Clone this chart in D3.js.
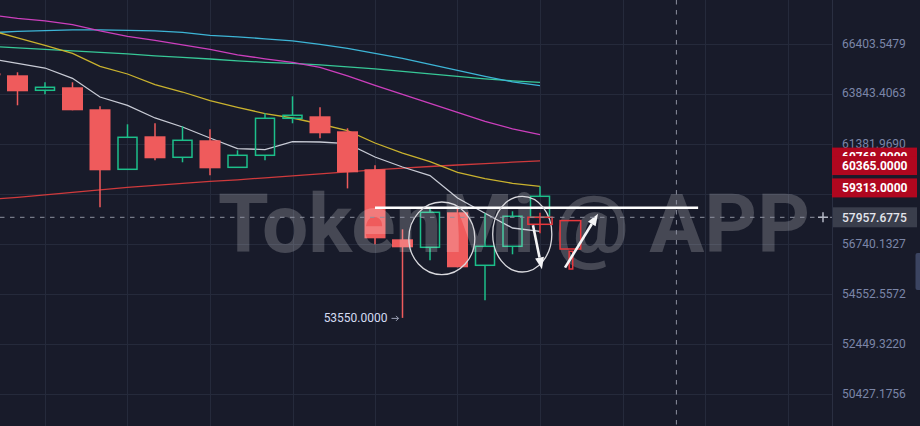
<!DOCTYPE html>
<html><head><meta charset="utf-8">
<script src="https://cdn.jsdelivr.net/npm/d3@7/dist/d3.min.js"></script>
<style>html,body{margin:0;padding:0;background:#181b2a;overflow:hidden}</style>
</head><body><svg id="c" width="920" height="426"></svg>
<script>
// ---- data ----
const openP  = [64907,64805,64045,64197,63096,60187,61770,60758,61576,60281,60854,62650,62749,62013,60187,56964,56606,58186,55811,56651,57958];
const highP  = [64990,64958,64449,64449,63245,62355,62404,62258,62111,61093,62897,63743,63195,62159,60376,57413,58369,58369,58141,58232,59389];
const lowP   = [64700,63294,63844,63046,58416,60187,60615,60520,59904,60281,60615,62404,61672,59290,56740,53550,56031,55724,54296,56296,57958];
const closeP = [64805,63995,64197,63046,60140,61721,60711,61576,60234,60854,62650,62798,61916,60046,57008,56606,58186,55724,56651,58004,58923];

const maWhite   = [65651,65418,65177,64652,63708,63294,62665,62223,61687,61175,61127,61513,61494,61417,60772,60296,59890,58844,58141,57472,57323];
const maYellow  = [67138,66744,66351,65935,65264,64871,64332,63959,63528,63194,62882,62665,62370,62047,61445,60963,60553,60046,59749,59528,59389];
const maRed     = [58775,58876,58992,59109,59225,59341,59435,59528,59622,59692,59786,59880,59974,60069,60164,60244,60320,60391,60457,60524,60590];
const maMagenta = [67962,67775,67642,67440,67112,66823,66613,66377,66143,65857,65651,65470,65213,64779,64297,63844,63393,62946,62502,62135,61852];
const maCyan    = [67007,67086,67123,67165,67165,67138,67112,67033,66876,66797,66692,66587,66403,66195,65935,65677,65367,65060,64753,64474,64282];
const maGreen   = [66299,66221,66143,66065,65987,65910,65806,65728,65641,65548,65470,65418,65341,65239,65136,65008,64881,64753,64626,64525,64449];

const priceTicks = [66403.5479,63843.4063,61381.9690,59015.4310,56740.1327,54552.5572,52449.3220,50427.1756];
const timeGrid = [2,5,8,11,14,17,20,23,26,29];
const priceTags = [60768.0000, 60365.0000, 59313.0000];
const crossIdx = 24.96, crossPrice = 57957.6775;
const lowMark = {i:15, p:53550.0000};

// annotations in data space (index, price)
const hLevel = {from:14, to:25.75, p:58392};
const ellipses = [{i0:15.23,i1:17.63,p0:55404,p1:58659},{i0:18.28,i1:20.43,p0:55518,p1:58923}];
const arrows = [{i0:19.745,p0:57594,i1:20.07,p1:55636},{i0:20.91,p0:55708,i1:22.11,p1:58118}];
const redBoxes = [{i0:19.56,i1:20.44,p0:57639,p1:57958},{i0:20.73,i1:21.48,p0:56531,p1:57808},{i0:21.06,i1:21.19,p0:55649,p1:56429}];
const redStick = {i:20, p0:57233, p1:58164};

// ---- scales ----
const W = 920, H = 426, plotR = 833;
const x = d3.scaleLinear().domain([1,20]).range([17.5,540]);
const y = d3.scaleLog().domain([50427.1756,66403.5479]).range([394.3,44.3]);

const svg = d3.select('#c');
svg.append('rect').attr('width',W).attr('height',H).attr('fill','#181b2a');
svg.append('defs').append('clipPath').attr('id','pc').append('rect').attr('x',0).attr('y',0).attr('width',plotR).attr('height',H);
const g = svg.append('g').attr('clip-path','url(#pc)');

// grid
g.selectAll('.hg').data(priceTicks).join('line')
  .attr('x1',0).attr('x2',plotR).attr('y1',d=>Math.round(y(d))+0.5).attr('y2',d=>Math.round(y(d))+0.5)
  .attr('stroke','#252a3b').attr('stroke-width',1);
g.selectAll('.vg').data(timeGrid).join('line')
  .attr('y1',0).attr('y2',H).attr('x1',d=>Math.round(x(d))+0.5).attr('x2',d=>Math.round(x(d))+0.5)
  .attr('stroke','#252a3b').attr('stroke-width',1);

// moving averages
const line = d3.line().x((d,i)=>x(i)).y(d=>y(d));
[[maRed,'#cf3a3c'],[maGreen,'#37c897'],[maCyan,'#3db5d6'],[maMagenta,'#cc3fbd'],[maYellow,'#c9b22e'],[maWhite,'#c8cbd5']]
 .forEach(([arr,col])=>{
  g.append('path').datum(arr).attr('d',line).attr('fill','none').attr('stroke',col).attr('stroke-width',1.3);
 });

// candles
const RED='#ef5b5c', GRN='#1cbf8a';
const cand = d3.range(openP.length).map(i=>({i,o:openP[i],h:highP[i],l:lowP[i],c:closeP[i]}));
cand.forEach(d=>{
  const cx = x(d.i);
  const up = d.c >= d.o;
  const top = y(Math.max(d.o,d.c)), bot = y(Math.min(d.o,d.c));
  if(up){
    g.append('line').attr('x1',cx).attr('x2',cx).attr('y1',y(d.h)).attr('y2',top).attr('stroke',GRN).attr('stroke-width',1.5);
    g.append('line').attr('x1',cx).attr('x2',cx).attr('y1',bot).attr('y2',y(d.l)).attr('stroke',GRN).attr('stroke-width',1.5);
    g.append('rect').attr('x',cx-9.5).attr('y',top).attr('width',19).attr('height',Math.max(1,bot-top))
      .attr('fill','none').attr('stroke',GRN).attr('stroke-width',1.5);
  } else {
    g.append('line').attr('x1',cx).attr('x2',cx).attr('y1',y(d.h)).attr('y2',y(d.l)).attr('stroke',RED).attr('stroke-width',1.5);
    g.append('rect').attr('x',cx-10.5).attr('y',top).attr('width',21).attr('height',Math.max(1,bot-top)).attr('fill',RED);
  }
});

// watermark
const wm = g.append('text').attr('x',218).attr('y',252).text('TokenMi @ APP')
  .attr('font-family','Roboto, "Open Sans", sans-serif').attr('font-weight',700).attr('font-size',81)
  .attr('fill','#ffffff').attr('fill-opacity',0.2);
const wl = wm.node().getComputedTextLength();
wm.attr('font-size', 81*592/wl);

// annotations
g.append('line').attr('x1',x(hLevel.from)).attr('x2',x(hLevel.to)).attr('y1',y(hLevel.p)).attr('y2',y(hLevel.p))
  .attr('stroke','#ffffff').attr('stroke-width',2.5);
ellipses.forEach(e=>{
  const x0=x(e.i0),x1=x(e.i1),y0=y(e.p1),y1=y(e.p0);
  g.append('ellipse').attr('cx',(x0+x1)/2).attr('cy',(y0+y1)/2).attr('rx',(x1-x0)/2).attr('ry',(y1-y0)/2)
    .attr('fill','none').attr('stroke','#d9d9de').attr('stroke-width',1.3);
});
redBoxes.forEach(b=>{
  g.append('rect').attr('x',x(b.i0)).attr('y',y(b.p1)).attr('width',x(b.i1)-x(b.i0)).attr('height',y(b.p0)-y(b.p1))
    .attr('fill','none').attr('stroke','#e8383d').attr('stroke-width',1.5);
});
g.append('line').attr('x1',x(redStick.i)).attr('x2',x(redStick.i)).attr('y1',y(redStick.p1)).attr('y2',y(redStick.p0))
  .attr('stroke','#e8383d').attr('stroke-width',1.5);
arrows.forEach(a=>{
  const X0=x(a.i0),Y0=y(a.p0),X1=x(a.i1),Y1=y(a.p1);
  const ang=Math.atan2(Y1-Y0,X1-X0), L=12, Wd=4.5;
  const bx=X1-L*Math.cos(ang), by=Y1-L*Math.sin(ang);
  g.append('line').attr('x1',X0).attr('y1',Y0).attr('x2',bx).attr('y2',by).attr('stroke','#f4f4f6').attr('stroke-width',2.6);
  const px=-Math.sin(ang), py=Math.cos(ang);
  g.append('path').attr('d',`M${X1},${Y1}L${bx+px*Wd},${by+py*Wd}L${bx-px*Wd},${by-py*Wd}Z`).attr('fill','#f4f4f6');
});

// low marker
const lx = x(lowMark.i), ly = y(lowMark.p);
g.append('text').attr('x',lx-15).attr('y',ly).attr('dy','0.35em').attr('text-anchor','end')
  .attr('font-family','Roboto, sans-serif').attr('font-size',12).attr('fill','#d4dbf2').text(d3.format('.4f')(lowMark.p));
g.append('path').attr('d',`M${lx-11},${ly+0.5}H${lx-4}M${lx-6.5},${ly-2}L${lx-4},${ly+0.5}L${lx-6.5},${ly+3}`)
  .attr('fill','none').attr('stroke','#9aa0b4').attr('stroke-width',1);

// crosshair
g.append('line').attr('x1',x(crossIdx)).attr('x2',x(crossIdx)).attr('y1',0).attr('y2',H)
  .attr('stroke','#8c909e').attr('stroke-width',1).attr('stroke-dasharray','4.5,5.5');
g.append('line').attr('x1',0).attr('x2',plotR).attr('y1',y(crossPrice)).attr('y2',y(crossPrice))
  .attr('stroke','#8c909e').attr('stroke-width',1).attr('stroke-dasharray','4.5,5.5');

// price axis
svg.append('line').attr('x1',plotR-0.5).attr('x2',plotR-0.5).attr('y1',0).attr('y2',H).attr('stroke','#2a2f41');
svg.selectAll('.pt').data(priceTicks).join('text')
  .attr('x',842).attr('y',d=>y(d)-1).attr('dy','0.35em')
  .attr('font-family','Roboto, sans-serif').attr('font-size',12).attr('fill','#7b86a8')
  .text(d=>d3.format('.4f')(d));
priceTags.forEach(p=>{
  const cy=y(p);
  svg.append('rect').attr('x',832).attr('y',cy-9.5).attr('width',85).attr('height',19).attr('fill','#b0071f');
  svg.append('text').attr('x',842).attr('y',cy).attr('dy','0.35em')
    .attr('font-family','Roboto, sans-serif').attr('font-size',12).attr('font-weight',700).attr('fill','#ffffff')
    .text(d3.format('.4f')(p));
});
const cyy=y(crossPrice);
svg.append('rect').attr('x',833).attr('y',cyy-10).attr('width',84).attr('height',20).attr('fill','#3a3e4c');
svg.append('text').attr('x',842).attr('y',cyy).attr('dy','0.35em')
  .attr('font-family','Roboto, sans-serif').attr('font-size',12).attr('font-weight',500).attr('fill','#e4e6ec')
  .text(d3.format('.4f')(crossPrice));
svg.append('path').attr('d',`M${818},${cyy}H${828}M${823},${cyy-5}V${cyy+5}`).attr('stroke','#b3b7c3').attr('stroke-width',1.5);
svg.append('rect').attr('x',915.5).attr('y',253).attr('width',6).attr('height',37).attr('rx',2).attr('fill','#3b4461');
</script></body></html>
